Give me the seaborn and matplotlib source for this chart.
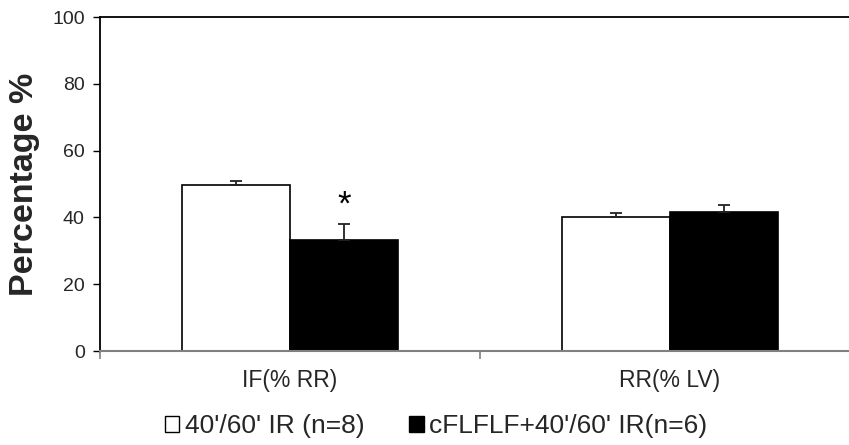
import matplotlib
matplotlib.use("Agg")
import matplotlib.pyplot as plt
import seaborn as sns
import pandas as pd
from matplotlib.patches import Patch

# values
categories = ["IF(% RR)", "RR(% LV)"]
groups = ["40'/60' IR (n=8)", "cFLFLF+40'/60' IR(n=6)"]
control_mean = [49.7, 40.1]
control_err = [1.3, 1.3]
treat_mean = [33.2, 41.5]
treat_err = [4.9, 2.3]

sns.set_theme(style="white")
plt.rcParams["font.family"] = ["Liberation Sans", "DejaVu Sans"]

df = pd.DataFrame({
    "category": categories * 2,
    "group": [groups[0]] * 2 + [groups[1]] * 2,
    "value": control_mean + treat_mean,
})
errs = control_err + treat_err

fig = plt.figure(figsize=(8.49, 4.45), dpi=100)
ax = fig.add_axes([100 / 849, 94 / 445, 760 / 849, 334 / 445])

sns.barplot(data=df, x="category", y="value", hue="group", order=categories,
            hue_order=groups, palette=["white", "black"], edgecolor="black",
            linewidth=1.2, width=0.57, errorbar=None, legend=False, ax=ax)

# upper-only error bars, one per bar (patches are ordered by hue, then category)
for p, e in zip(ax.patches[:4], errs):
    xc = p.get_x() + p.get_width() / 2
    ax.errorbar(xc, p.get_height(), yerr=[[0], [e]], fmt="none",
                ecolor="#222222", elinewidth=1.3, capsize=4.5, capthick=1.3)

# significance mark above the treated IF bar
ax.text(0.143, treat_mean[0] + treat_err[0] + 0.5, "*", ha="center",
        va="bottom", fontsize=25, color="black")

ax.set_ylim(0, 100)
ax.set_xlim(-0.5, 1.5)
ax.set_yticks(range(0, 101, 20))
ax.set_xlabel("")
ax.set_ylabel("Percentage %", fontsize=24.5, fontweight="bold", labelpad=9)

ax.tick_params(axis="y", which="major", direction="out", length=5, width=1,
               color="black", labelsize=14, left=True, pad=6)
ax.set_xticks([0, 1])
ax.set_xticklabels(categories, fontsize=16.5)
ax.tick_params(axis="x", which="major", length=0, pad=13)
ax.set_xticks([-0.5, 0.5, 1.5], minor=True)
ax.tick_params(axis="x", which="minor", direction="out", length=6, width=1.2,
               color="#808080", bottom=True)

for side in ["left", "top"]:
    ax.spines[side].set_color("black")
    ax.spines[side].set_linewidth(1.3)
ax.spines["bottom"].set_color("#808080")
ax.spines["bottom"].set_linewidth(1.5)
ax.spines["right"].set_visible(False)

handles = [Patch(facecolor="white", edgecolor="black", linewidth=1),
           Patch(facecolor="black", edgecolor="black", linewidth=1)]
fig.legend(handles, groups, loc="center", bbox_to_anchor=(436 / 849, 1 - 426 / 445),
           ncol=2, frameon=False, fontsize=19, handlelength=0.55, handleheight=0.55,
           handletextpad=0.2, columnspacing=1.7)

fig.savefig("out.png", dpi=100)
